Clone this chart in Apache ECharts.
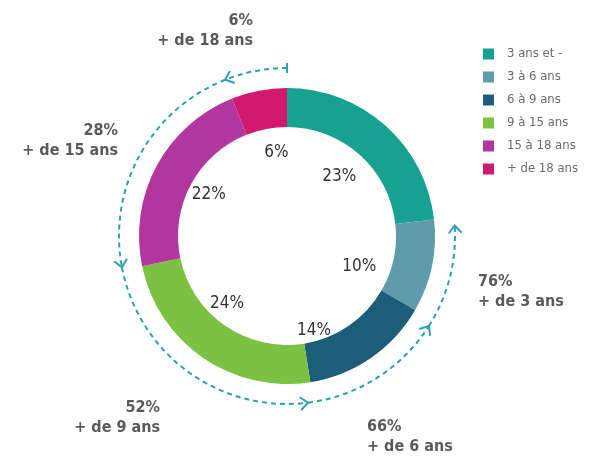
<!DOCTYPE html>
<html>
<head>
<meta charset="utf-8">
<script src="https://cdn.jsdelivr.net/npm/echarts@6/dist/echarts.min.js"></script>
<style>html,body{margin:0;padding:0;background:#fff}#c{width:598px;height:460px}</style>
</head>
<body>
<div id="c"></div>
<script>
var categories = ['3 ans et -', '3 à 6 ans', '6 à 9 ans', '9 à 15 ans', '15 à 18 ans', '+ de 18 ans'];
var shares = [23, 10, 14, 24, 22, 6];
var colors = ['#17a191', '#5f9bab', '#1c5e79', '#7cc242', '#b1369d', '#d2186f'];
var groupShares = [6, 28, 52, 66, 76];
var groupLabels = ['+ de 18 ans', '+ de 15 ans', '+ de 9 ans', '+ de 6 ans', '+ de 3 ans'];

var FONT = "'Liberation Sans Narrow','DejaVu Sans Condensed','Roboto',sans-serif";
var LINE = '#2aa3ad';
var labelAnchors = [
  {x: 253, y: 11, align: 'right'},
  {x: 118, y: 121, align: 'right'},
  {x: 160, y: 398, align: 'right'},
  {x: 367, y: 417, align: 'left'},
  {x: 478, y: 272, align: 'left'}
];
var labelNudges = [[-3, 2], [-9, 14], [-20, 26], [-13, -1], [-5, -2], [5, -2]];

var chart = echarts.init(document.getElementById('c'), null, {renderer: 'canvas'});

function ang(a) { return -(90 + 3.6 * a) * Math.PI / 180; }

function renderItem(params, api) {
  var idx = params.dataIndex;
  var cs = params.coordSys;
  var a1 = api.value(1);
  var a0 = idx === 0 ? 0 : groupShares[idx - 1];
  var R = cs.r;
  var cx = cs.cx, cy = cs.cy;
  var children = [];
  children.push({
    type: 'arc',
    shape: {cx: cx, cy: cy, r: R, startAngle: ang(a0), endAngle: ang(a1), clockwise: false},
    style: {stroke: LINE, lineWidth: 2, lineDash: [5, 4], fill: null}
  });
  var p = api.coord([1, a1]);
  var phi = ang(a1);
  var dx = Math.sin(phi), dy = -Math.cos(phi);
  var L = 10, t = 40 * Math.PI / 180;
  function rot(x, y, a) { return [x * Math.cos(a) - y * Math.sin(a), x * Math.sin(a) + y * Math.cos(a)]; }
  var b1 = rot(-dx, -dy, t), b2 = rot(-dx, -dy, -t);
  children.push({
    type: 'polyline',
    shape: {points: [[p[0] + L * b1[0], p[1] + L * b1[1]], [p[0], p[1]], [p[0] + L * b2[0], p[1] + L * b2[1]]]},
    style: {stroke: LINE, lineWidth: 2, fill: null}
  });
  if (idx === 0) {
    var s = api.coord([1, 0]);
    var ux = Math.cos(ang(0)), uy = Math.sin(ang(0));
    children.push({
      type: 'line',
      shape: {x1: s[0] - 5 * ux, y1: s[1] - 5 * uy, x2: s[0] + 5 * ux, y2: s[1] + 5 * uy},
      style: {stroke: LINE, lineWidth: 2}
    });
  }
  var an = labelAnchors[idx];
  children.push({
    type: 'text',
    style: {
      x: an.x, y: an.y,
      text: a1 + '%\n' + groupLabels[idx],
      align: an.align, verticalAlign: 'top',
      font: 'bold 16px ' + FONT,
      lineHeight: 20,
      fill: '#5a5a5a'
    }
  });
  return {type: 'group', children: children};
}

var option = {
  backgroundColor: '#fff',
  color: colors,
  animation: false,
  legend: {
    orient: 'vertical',
    left: 478, top: 42,
    itemWidth: 11, itemHeight: 11, itemGap: 9,
    icon: 'rect',
    data: categories,
    textStyle: {color: '#6a6a6a', fontSize: 13, lineHeight: 14, fontFamily: FONT, padding: [0, 0, 0, 8]}
  },
  polar: {center: [287, 236], radius: [0, 168]},
  radiusAxis: {min: 0, max: 1, show: false},
  angleAxis: {min: 0, max: 100, startAngle: 90, clockwise: false, show: false},
  series: [
    {
      type: 'pie',
      center: [287, 236],
      radius: [109, 148],
      startAngle: 90,
      clockwise: true,
      silent: true,
      label: {show: false},
      labelLine: {show: false},
      data: categories.map(function (c, i) { return {name: c, value: shares[i]}; })
    },
    {
      type: 'pie',
      center: [287, 236],
      radius: [0, 160],
      startAngle: 90,
      clockwise: true,
      silent: true,
      itemStyle: {color: 'rgba(0,0,0,0)'},
      label: {
        show: true, position: 'inside',
        formatter: function (p) { return p.value + '%'; },
        color: '#333', fontSize: 17, fontFamily: FONT
      },
      labelLine: {show: false},
      data: categories.map(function (c, i) {
        return {name: c, value: shares[i], label: {offset: labelNudges[i]}};
      })
    },
    {
      type: 'custom',
      coordinateSystem: 'polar',
      silent: true,
      renderItem: renderItem,
      data: groupShares.map(function (v) { return [1, v]; })
    }
  ]
};
chart.setOption(option);
</script>
</body>
</html>
